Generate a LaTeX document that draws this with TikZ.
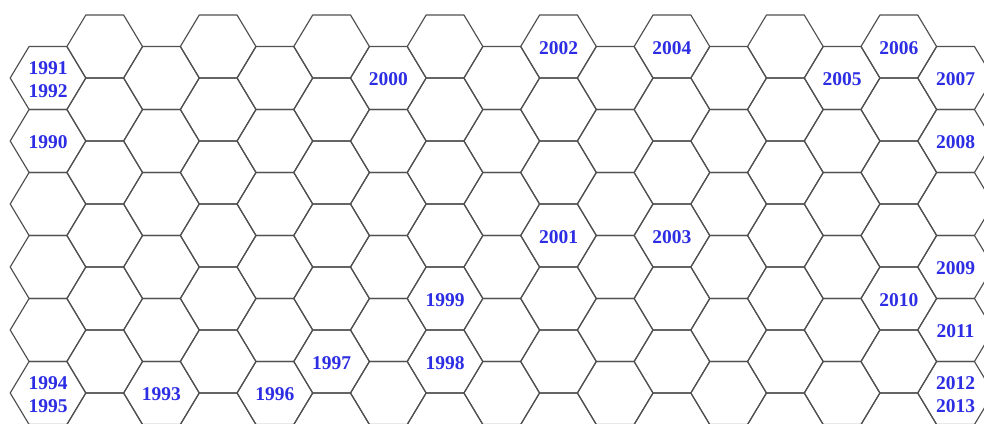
\documentclass[tikz,border=0pt]{standalone}
\usepackage{fontspec}
\setmainfont{Liberation Serif}
\definecolor{yearblue}{RGB}{45,45,228}
\definecolor{gridgray}{RGB}{80,80,80}
\tikzset{
  hexline/.style={draw=gridgray, line width=1.15pt, line join=round},
  year/.style={text=yearblue, font=\fontsize{19.5}{22.5}\selectfont\bfseries,
    align=center, inner sep=0pt, yshift=-1.5pt}
}
\begin{document}
\begin{tikzpicture}[x=1pt,y=-1pt]
\fill[white] (0,0) rectangle (984,424);
\useasboundingbox (0,0) rectangle (984,424);
\begin{scope}
\clip (0,0) rectangle (984,423.3);
\foreach \k in {0,...,16}{
  \pgfmathsetmacro\cx{48+56.72*\k}
  \pgfmathtruncatemacro\odd{mod(\k,2)}
  \ifnum\odd=1 \def\ystart{46.5}\def\nrows{6}\else\def\ystart{78}\def\nrows{5}\fi
  \foreach \j in {0,...,\nrows}{
    \pgfmathsetmacro\cy{\ystart+63*\j}
    \draw[hexline, shift={(\cx,\cy)}] (-37.8,0) -- (-18.9,-31.5) -- (18.9,-31.5)
      -- (37.8,0) -- (18.9,31.5) -- (-18.9,31.5) -- cycle;
  }
}
\end{scope}
\node[year] (y1991) at (48,78) {1991\\1992};
\node[year] (y1990) at (48,141) {1990};
\node[year] (y1994) at (48,393) {1994\\1995};
\node[year] (y1993) at (161.4,393) {1993};
\node[year] (y1996) at (274.9,393) {1996};
\node[year] (y1997) at (331.6,361.5) {1997};
\node[year] (y1998) at (445,361.5) {1998};
\node[year] (y1999) at (445,298.5) {1999};
\node[year] (y2000) at (388.3,78) {2000};
\node[year] (y2001) at (558.5,235.5) {2001};
\node[year] (y2002) at (558.5,46.5) {2002};
\node[year] (y2003) at (671.9,235.5) {2003};
\node[year] (y2004) at (671.9,46.5) {2004};
\node[year] (y2005) at (842.1,78) {2005};
\node[year] (y2006) at (898.8,46.5) {2006};
\node[year] (y2007) at (955.5,78) {2007};
\node[year] (y2008) at (955.5,141) {2008};
\node[year] (y2009) at (955.5,267) {2009};
\node[year] (y2010) at (898.8,298.5) {2010};
\node[year] (y2011) at (955.5,330) {2011};
\node[year] (y2012) at (955.5,393) {2012\\2013};
\end{tikzpicture}
\end{document}
